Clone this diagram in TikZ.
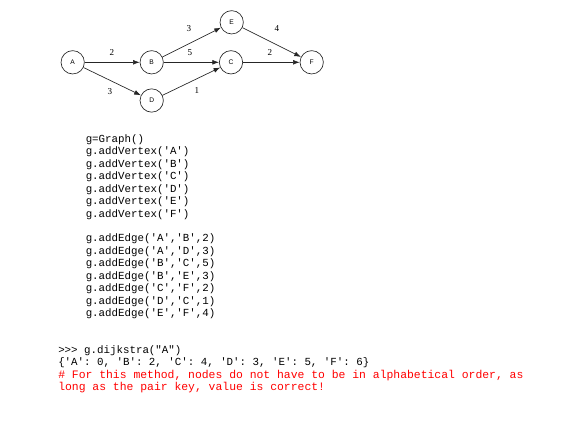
\documentclass[tikz,border=0pt]{standalone}
\usepackage{fontspec}
\setmainfont{Liberation Serif}
\setsansfont{Liberation Sans}
\setmonofont{Liberation Mono}
\usetikzlibrary{arrows.meta}

\begin{document}
\begin{tikzpicture}[x=0.75pt,y=-0.75pt,
    vertex/.style={circle,draw=black!85,line width=0.5pt,minimum size=17.5pt,inner sep=0pt,
        font=\sffamily\fontsize{5}{6}\selectfont},
    edge/.style={-{Latex[length=5pt,width=3.6pt]},line width=0.5pt,black!85},
    weight/.style={inner sep=0pt,font=\fontsize{6.8}{8}\selectfont},
    code/.style={anchor=base west,inner sep=0pt,font=\ttfamily\fontsize{8.1}{9.4}\selectfont},
    comment/.style={code,text=red,font=\ttfamily\fontsize{8.55}{9.4}\selectfont}]
    \useasboundingbox (0,0) rectangle (581,432);
    % --- grafo: sei vertici ---
    \node[vertex] (A) at (72.7,62.3) {A};
    \node[vertex] (B) at (151.7,62.3) {B};
    \node[vertex] (C) at (231,62.3) {C};
    \node[vertex] (D) at (151.7,100.5) {D};
    \node[vertex] (E) at (231.7,22.3) {E};
    \node[vertex] (F) at (311.7,62.3) {F};
    \draw[edge] (A) -- (B);
    \draw[edge] (A) -- (D);
    \draw[edge] (B) -- (C);
    \draw[edge] (B) -- (E);
    \draw[edge] (C) -- (F);
    \draw[edge] (D) -- (C);
    \draw[edge] (E) -- (F);
    % --- pesi ---
    \node[weight] (wAB) at (112,52.7) {2};
    \node[weight] (wAD) at (110,91.7) {3};
    \node[weight] (wBC) at (190,52.7) {5};
    \node[weight] (wBE) at (189,28.3) {3};
    \node[weight] (wCF) at (270,52.7) {2};
    \node[weight] (wDC) at (197,90.7) {1};
    \node[weight] (wEF) at (277,28.3) {4};
    % --- codice ---
    \foreach \line [count=\i from 0] in {{g=Graph()},{g.addVertex('A')},{g.addVertex('B')},
        {g.addVertex('C')},{g.addVertex('D')},{g.addVertex('E')},{g.addVertex('F')}}
        \node[code] (vtx\i) at (85.5,142+12.5*\i) {\line};
    \foreach \line [count=\i from 0] in {{g.addEdge('A','B',2)},{g.addEdge('A','D',3)},
        {g.addEdge('B','C',5)},{g.addEdge('B','E',3)},{g.addEdge('C','F',2)},
        {g.addEdge('D','C',1)},{g.addEdge('E','F',4)}}
        \node[code] (edg\i) at (85.5,241.8+12.5*\i) {\line};
    % --- risultato ---
    \node[code] (call) at (58,353.3) {>>> g.dijkstra("A")};
    \node[code] (result) at (58,365.5) {\{'A': 0, 'B': 2, 'C': 4, 'D': 3, 'E': 5, 'F': 6\}};
    \node[comment] (note1) at (58,378.3) {\# For this method, nodes do not have to be in alphabetical order, as};
    \node[comment] (note2) at (58,390.3) {long as the pair key, value is correct!};
\end{tikzpicture}
\end{document}
